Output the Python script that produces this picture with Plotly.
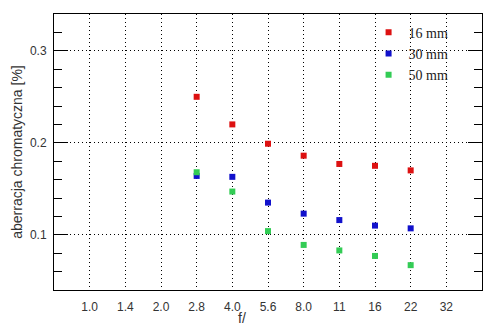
import plotly.graph_objects as go

apertures = ["1.0", "1.4", "2.0", "2.8", "4.0", "5.6", "8.0", "11", "16", "22", "32"]
data_apertures = ["2.8", "4.0", "5.6", "8.0", "11", "16", "22"]
s16 = [0.250, 0.220, 0.199, 0.186, 0.177, 0.175, 0.170]
s30 = [0.164, 0.163, 0.135, 0.123, 0.116, 0.110, 0.107]
s50 = [0.168, 0.147, 0.104, 0.089, 0.083, 0.077, 0.067]
series = [("16 mm", s16, "#dd1111"), ("30 mm", s30, "#1111cc"), ("50 mm", s50, "#33cc55")]

idx = {a: i for i, a in enumerate(apertures)}
xs = [idx[a] for a in data_apertures]

fig = go.Figure()
for name, vals, col in series:
    fig.add_trace(go.Scatter(x=xs, y=vals, mode="markers", name=name,
                             marker=dict(symbol="square", size=6, color=col, line=dict(width=0))))

# white box behind the legend hiding the grid there
fig.add_shape(type="rect", xref="paper", yref="paper", x0=0.752, x1=0.998, y0=0.72, y1=0.998,
              fillcolor="white", line=dict(width=0), layer="between")

fig.add_annotation(text="f/", xref="paper", yref="paper", x=0.44, y=-0.10,
                   xanchor="center", yanchor="middle", showarrow=False,
                   font=dict(family="Liberation Sans, Arial", size=14, color="#333"))

fig.update_layout(
    width=494, height=331,
    margin=dict(l=54, r=12, t=14, b=41),
    paper_bgcolor="white", plot_bgcolor="white",
    font=dict(family="Liberation Sans, Arial", size=12, color="#333"),
    showlegend=True,
    legend=dict(x=0.735, y=0.99, xanchor="left", yanchor="top",
                bgcolor="rgba(0,0,0,0)", borderwidth=0,
                font=dict(family="Liberation Serif, Times New Roman", size=14, color="#222"),
                itemwidth=30, tracegroupgap=0),
    xaxis=dict(range=[-1, 11], tickmode="array", tickvals=list(range(len(apertures))),
               ticktext=apertures, ticks="", showgrid=True, gridcolor="black",
               griddash="1px,3px", gridwidth=1, zeroline=False,
               showline=True, linecolor="black", linewidth=1, mirror=True,
               ticklabelstandoff=6),
    yaxis=dict(range=[0.04, 0.34], tickvals=[0.1, 0.2, 0.3], ticktext=["0.1", "0.2", "0.3"],
               ticks="inside", ticklen=14, tickcolor="black", tickwidth=1,
               minor=dict(dtick=0.02, ticks="inside", ticklen=8, tickcolor="black", showgrid=False),
               showgrid=True, gridcolor="black", griddash="1px,3px", gridwidth=1, zeroline=False,
               showline=True, linecolor="black", linewidth=1, mirror="ticks",
               ticklabelstandoff=4,
               title=dict(text="aberracja chromatyczna [%]", standoff=4, font=dict(size=14, color="#333"))),
)

fig.write_html("out.html")
